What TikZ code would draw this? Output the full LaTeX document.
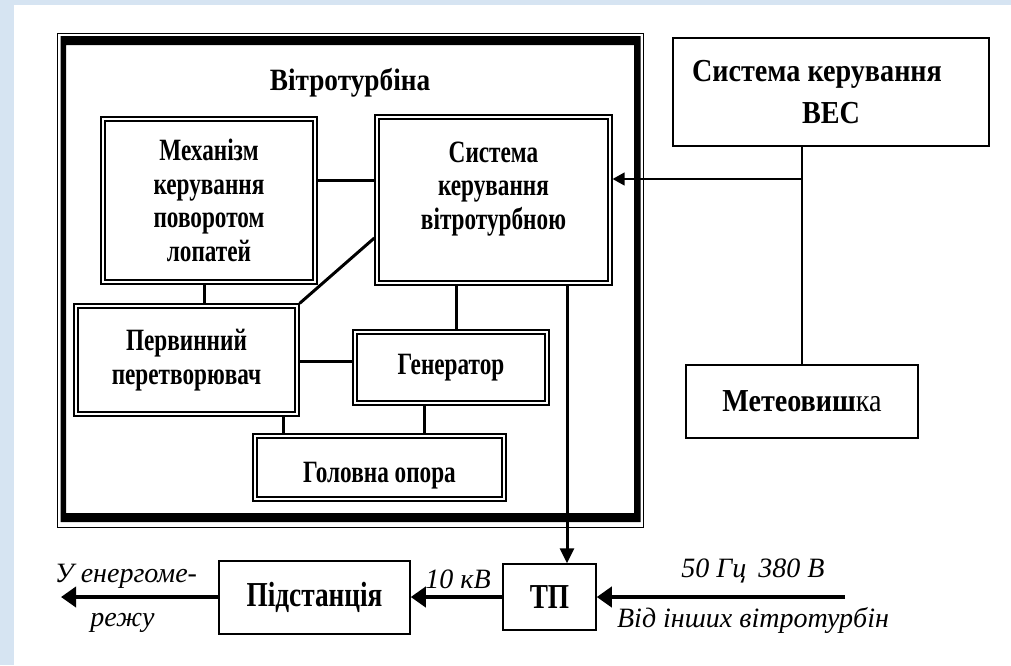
\documentclass[tikz,border=0pt]{standalone}
\usepackage{fontspec}
\setmainfont{Liberation Serif}
\newfontfamily\condin{Liberation Serif}[FakeStretch=0.75]
\newfontfamily\condmid{Liberation Serif}[FakeStretch=0.88]
\newfontfamily\condout{Liberation Serif}[FakeStretch=0.78]
\usetikzlibrary{arrows.meta, positioning}
\definecolor{bgblue}{RGB}{214,228,242}

\begin{document}
\begin{tikzpicture}[x=1pt, y=-1pt,
  dbl/.style={draw, double, line width=1.3pt, double distance=2.7pt, outer sep=2.65pt,
    inner sep=0pt, align=center, font=\condin\bfseries\fontsize{31}{33.5}\selectfont},
  sbox/.style={draw, line width=1.5pt, inner sep=0pt, align=center,
    font=\condmid\bfseries\fontsize{32}{42}\selectfont},
  bbox/.style={sbox, font=\condout\bfseries\fontsize{35}{40}\selectfont},
  link/.style={line width=3pt},
  wire/.style={line width=1.5pt},
  flow/.style={line width=4.5pt, -{Triangle[length=15pt, width=20pt]}},
  note/.style={anchor=base, inner sep=0pt, font=\itshape\fontsize{28}{34}\selectfont}]
  \fill[white] (0,0) rectangle (1011,665);
  \fill[bgblue] (0,0) rectangle (1011,5);
  \fill[bgblue] (0,0) rectangle (14,665);
  \useasboundingbox (0,0) rectangle (1011,665);

  \draw[line width=1pt] (57,33) rectangle (643,527);
  \fill[even odd rule] (60.5,36) rectangle (640.5,522) (66,45) rectangle (634,513);
  \node[anchor=base, inner sep=0pt, font=\condmid\bfseries\fontsize{31}{34}\selectfont]
    (title) at (350,90) {Вітротурбіна};

  \node[dbl, minimum width=212, minimum height=163] (mech) at (209,200.5)
    {Механізм\\керування\\поворотом\\лопатей};
  \node[dbl, minimum width=233, minimum height=166] (sktb) at (493.5,200) {};
  \node[align=center, inner sep=0pt, font=\condin\bfseries\fontsize{31}{33.5}\selectfont]
    (sktbtext) at (493.5,189) {Система\\керування\\вітротурбною};
  \node[dbl, minimum width=221, minimum height=108] (perv) at (186.5,360)
    {Первинний\\перетворювач};
  \node[dbl, minimum width=192, minimum height=71] (gen) at (451,367.5) {Генератор};
  \node[dbl, minimum width=249, minimum height=63, text height=29pt, text depth=0pt]
    (gol) at (379.5,467.5) {Головна опора};

  \node[sbox, minimum width=316, minimum height=108] (ves) at (831,92)
    {Система керування\hspace*{28pt}\\ВЕС};
  \node[sbox, minimum width=232, minimum height=73] (meteo) at (802,401.5)
    {Метеовиш{\mdseries ка}};
  \node[bbox, minimum width=191, minimum height=73] (pidst) at (314.5,597.5) {Підстанція};
  \node[bbox, minimum width=93, minimum height=66] (tp) at (549.5,597) {ТП};

  \draw[link] (mech.east |- 0,180) -- (sktb.west |- 0,180);
  \draw[link] (sktb.west |- 0,238) -- (perv.north east);
  \draw[link] (mech.south -| 204,0) -- (perv.north -| 204,0);
  \draw[link] (perv.east |- 0,361) -- (gen.west |- 0,361);
  \draw[link] (sktb.south -| 456,0) -- (gen.north -| 456,0);
  \draw[link] (perv.south -| 283,0) -- (gol.north -| 283,0);
  \draw[link] (gen.south -| 424,0) -- (gol.north -| 424,0);
  \draw[link, -{Triangle[length=15pt, width=14pt]}] (sktb.south -| 567,0) -- (tp.north -| 567,0);

  \draw[wire] (ves.south -| meteo.north) -- (meteo.north);
  \coordinate (junc) at (meteo.north |- 0,179);
  \draw[wire, -{Triangle[length=12pt, width=13pt]}] (junc) -- (junc -| sktb.east);

  \coordinate (grid) at (61,597);
  \coordinate (other) at (845,597);
  \draw[flow] (tp.west) -- (tp.west -| pidst.east);
  \draw[flow] (pidst.west |- grid) -- (grid);
  \draw[flow] (other) -- (other -| tp.east);

  \node[note] (kv) at (458,588) {10 кВ};
  \node[note] (freq) at (753,577) {50 Гц\hspace{12pt}380 В};
  \node[note] (from) at (753,627) {Від інших вітротурбін};
  \node[note] (to1) at (126,582) {У енергоме-};
  \node[note] (to2) at (122.5,626) {режу};
\end{tikzpicture}
\end{document}
